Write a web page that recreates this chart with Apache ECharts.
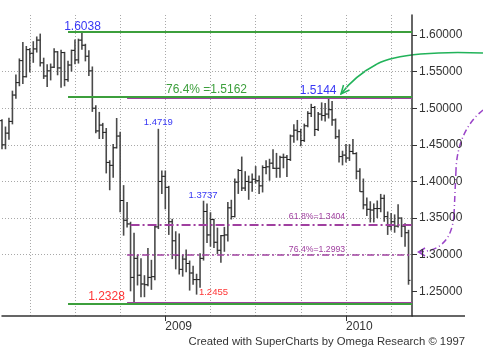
<!DOCTYPE html>
<html><head><meta charset="utf-8">
<script src="https://cdn.jsdelivr.net/npm/echarts@6/dist/echarts.min.js"></script>
<style>html,body{margin:0;padding:0;background:#fff}#c{width:483px;height:363px}</style>
</head><body><div id="c"></div>
<script>
// Weekly EUR/USD bars, weeks starting Monday 2008-02-04 (last category is an empty week)
const firstWeek = Date.UTC(2008, 1, 4);
const weekCount = 119;
const weeks = [];
for (let i = 0; i < weekCount; i++) weeks.push(new Date(firstWeek + i * 7 * 864e5).toISOString().slice(0, 10));

const open = [
 1.4830,1.4500,1.4660,1.4820,1.5180,1.5350,1.5650,1.5430,1.5800,1.5750,1.5810,1.5930,1.5620,1.5440,1.5510,1.5560,1.5770,1.5550,1.5760,1.5390,1.5590,1.5790,1.5660,1.5930,1.5860,1.5710,1.5510,1.5000,1.4690,1.4770,1.4670,1.4260,1.4220,1.4460,1.4620,1.3740,1.3470,1.3420,1.2690,1.2950,1.2720,1.2600,1.2590,1.2690,1.2700,1.3380,1.4000,1.4070,
 1.3920,1.3450,1.3190,1.2990,1.2800,1.2940,1.2880,1.2750,1.2660,1.2660,1.2950,1.3590,1.3270,1.3480,1.3170,1.3060,1.3260,1.3270,1.3640,1.3520,1.3990,1.4150,1.3910,1.4000,1.3990,1.4030,1.4010,1.3940,1.4190,1.4200,1.4250,1.4180,1.4180,1.4330,1.4330,1.4300,1.4620,1.4700,1.4680,1.4560,1.4760,1.4930,1.5010,1.4710,1.4920,1.4900,1.4920,1.4980,1.4840,1.4610,1.4340,1.4360,
 1.4320,1.4410,1.4380,1.4140,1.3860,1.3680,1.3620,1.3610,1.3630,1.3630,1.3770,1.3520,1.3390,1.3450,1.3390,1.3500,1.3390,1.3300];
const high = [
 1.4850,1.4750,1.4870,1.5240,1.5460,1.5680,1.5905,1.5850,1.5820,1.5915,1.5980,1.6019,1.5690,1.5600,1.5610,1.5820,1.5780,1.5800,1.5770,1.5650,1.5800,1.5940,1.5950,1.6038,1.5880,1.5790,1.5570,1.5040,1.4950,1.4800,1.4730,1.4290,1.4510,1.4867,1.4680,1.3950,1.3720,1.3450,1.3300,1.3000,1.2950,1.2720,1.3090,1.2930,1.3420,1.4719,1.4150,1.4150,
 1.3940,1.3490,1.3320,1.3290,1.3000,1.3070,1.2920,1.2850,1.2740,1.3020,1.3737,1.3700,1.3580,1.3490,1.3370,1.3270,1.3380,1.3720,1.3750,1.4040,1.4170,1.4340,1.4140,1.4080,1.4110,1.4210,1.4080,1.4220,1.4290,1.4310,1.4440,1.4390,1.4350,1.4380,1.4360,1.4640,1.4780,1.4840,1.4720,1.4790,1.4960,1.5060,1.5030,1.4950,1.5080,1.5070,1.5144,1.5100,1.4860,1.4710,1.4420,1.4510,
 1.4510,1.4580,1.4400,1.4180,1.4040,1.3780,1.3730,1.3700,1.3740,1.3830,1.3820,1.3590,1.3570,1.3550,1.3690,1.3510,1.3430,1.3340];
const low = [
 1.4440,1.4440,1.4570,1.4780,1.5130,1.5300,1.5330,1.5420,1.5490,1.5620,1.5760,1.5570,1.5400,1.5290,1.5380,1.5550,1.5450,1.5280,1.5300,1.5360,1.5500,1.5600,1.5610,1.5800,1.5640,1.5440,1.4950,1.4660,1.4580,1.4580,1.4110,1.3880,1.4050,1.4450,1.3580,1.3260,1.3370,1.2500,1.2328,1.2580,1.2420,1.2420,1.2570,1.2520,1.2650,1.3350,1.3830,1.3620,
 1.3270,1.2940,1.2800,1.2730,1.2700,1.2760,1.2510,1.2590,1.2455,1.2550,1.2920,1.3160,1.3110,1.3090,1.3010,1.2890,1.3040,1.3180,1.3480,1.3510,1.3830,1.3870,1.3870,1.3750,1.3860,1.3970,1.3830,1.3850,1.4100,1.4010,1.4170,1.4050,1.4050,1.4180,1.4060,1.4280,1.4530,1.4560,1.4480,1.4540,1.4740,1.4880,1.4620,1.4690,1.4830,1.4820,1.4860,1.4760,1.4580,1.4260,1.4220,1.4260,
 1.4280,1.4370,1.4030,1.3860,1.3620,1.3530,1.3440,1.3440,1.3500,1.3580,1.3450,1.3270,1.3330,1.3300,1.3370,1.3240,1.3110,1.2590];
const close = [
 1.4500,1.4660,1.4820,1.5180,1.5350,1.5650,1.5430,1.5800,1.5750,1.5810,1.5930,1.5620,1.5440,1.5510,1.5560,1.5770,1.5550,1.5760,1.5390,1.5590,1.5790,1.5660,1.5930,1.5860,1.5710,1.5510,1.5000,1.4690,1.4770,1.4670,1.4260,1.4220,1.4460,1.4620,1.3740,1.3470,1.3420,1.2690,1.2950,1.2720,1.2600,1.2590,1.2690,1.2700,1.3380,1.4000,1.4070,1.3920,
 1.3450,1.3190,1.2990,1.2800,1.2940,1.2880,1.2750,1.2660,1.2660,1.2950,1.3590,1.3270,1.3480,1.3170,1.3060,1.3260,1.3270,1.3640,1.3520,1.3990,1.4150,1.3910,1.4000,1.3990,1.4030,1.4010,1.3940,1.4190,1.4200,1.4250,1.4180,1.4180,1.4330,1.4330,1.4300,1.4620,1.4700,1.4680,1.4560,1.4760,1.4930,1.5010,1.4710,1.4920,1.4900,1.4920,1.4980,1.4840,1.4610,1.4340,1.4360,1.4320,
 1.4410,1.4380,1.4140,1.3860,1.3680,1.3620,1.3610,1.3630,1.3630,1.3770,1.3520,1.3390,1.3450,1.3390,1.3500,1.3390,1.3300,1.2650];

const yTicks = [1.25, 1.30, 1.35, 1.40, 1.45, 1.50, 1.55, 1.60];
const yMin = 1.2163, yMax = 1.6273;

// annotation levels
const greenLevels = [1.6038, 1.5162, 1.2328];
const purpleSolid = [1.5144, 1.2342];
const fibLevels = [1.3404, 1.2993];

const GREEN = '#3c9f3c', PURPLE = '#a040a0', BLUE = '#3737f5', RED = '#ff3535', FONT = 'Liberation Sans, Arial, sans-serif';

function weekHasFirstOf(v, months) {
  const t = Date.parse(v + 'T00:00:00Z');
  for (let k = 0; k < 7; k++) {
    const e = new Date(t + k * 864e5);
    if (e.getUTCDate() === 1 && months.indexOf(e.getUTCMonth()) >= 0) return true;
  }
  return false;
}

const data = open.map((o, i) => [i, o, high[i], low[i], close[i]]);

function renderItem(params, api) {
  const i = api.value(0);
  const pH = api.coord([i, api.value(2)]);
  const pL = api.coord([i, api.value(3)]);
  const pO = api.coord([i, api.value(1)]);
  const pC = api.coord([i, api.value(4)]);
  const x = pH[0];
  return { type: 'group', children: [
    { type: 'line', shape: { x1: x, y1: pH[1], x2: x, y2: pL[1] }, style: { stroke: '#4a4a4a', lineWidth: 1.6 } },
    { type: 'line', shape: { x1: x - 2, y1: pO[1], x2: x, y2: pO[1] }, style: { stroke: '#1e1e1e', lineWidth: 1 } },
    { type: 'line', shape: { x1: x, y1: pC[1], x2: x + 2, y2: pC[1] }, style: { stroke: '#1e1e1e', lineWidth: 1 } }
  ]};
}

const last = weekCount - 1;
function hLine(startIdx, v, color, width, dash) {
  return [{ coord: [startIdx, v], lineStyle: { color: color, width: width, type: dash || 'solid' } }, { coord: [last, v] }];
}
function tag(idx, v, text, color, size, off) {
  return { coord: [idx, v], value: text, label: { show: true, position: 'inside', formatter: text, color: color, fontSize: size, fontFamily: FONT, offset: off } };
}

const chart = echarts.init(document.getElementById('c'), null, { renderer: 'canvas' });
chart.setOption({
  animation: false,
  backgroundColor: '#ffffff',
  textStyle: { fontFamily: FONT },
  title: { text: 'Created with SuperCharts by Omega Research \u00a9 1997', right: 18, top: 336, padding: 0,
    textStyle: { fontSize: 11.3, fontWeight: 'normal', color: '#333', fontFamily: FONT } },
  grid: { left: 2, right: 71, top: 15, bottom: 47, containLabel: false },
  xAxis: {
    type: 'category', data: weeks, boundaryGap: false,
    axisLine: { show: true, lineStyle: { color: '#333', width: 1.5 } },
    axisTick: { show: true, length: 5, interval: (i, v) => weekHasFirstOf(v, [0]), lineStyle: { color: '#333', width: 1 } },
    axisLabel: { show: true, interval: (i, v) => weekHasFirstOf(v, [0]), align: 'left', margin: 5, color: '#333', fontSize: 12, fontFamily: FONT,
      formatter: v => String(new Date(Date.parse(v + 'T00:00:00Z') + 6 * 864e5).getUTCFullYear()) },
    splitLine: { show: true, interval: (i, v) => weekHasFirstOf(v, [0, 3, 6, 9]), lineStyle: { color: '#a8a8a8', width: 1, type: [1, 2] } }
  },
  yAxis: {
    type: 'value', position: 'right', min: yMin, max: yMax, splitNumber: 8, scale: true,
    axisLine: { show: true, lineStyle: { color: '#333', width: 1.5 } },
    axisTick: { show: true, length: 5, customValues: yTicks, lineStyle: { color: '#333' } },
    axisLabel: { show: true, customValues: yTicks, margin: 7, color: '#333', fontSize: 12, fontFamily: FONT, formatter: v => v.toFixed(5) },
    splitLine: { show: true, showMinLine: false, showMaxLine: false, lineStyle: { color: '#a8a8a8', width: 1, type: [1, 2] } }
  },
  series: [{
    type: 'custom', renderItem: renderItem, data: data, encode: { x: 0, y: [1, 2, 3, 4] }, clip: false,
    markLine: {
      silent: true, symbol: ['none', 'none'], label: { show: false }, animation: false,
      data: [
        hLine(19, greenLevels[0], GREEN, 2),
        hLine(36, purpleSolid[0], PURPLE, 2),
        hLine(19, greenLevels[1], GREEN, 2),
        hLine(36, purpleSolid[1], PURPLE, 2),
        hLine(19, greenLevels[2], GREEN, 2),
        hLine(37, fibLevels[0], PURPLE, 2, [9, 3, 2, 3]),
        hLine(36, fibLevels[1], PURPLE, 1.5, [7, 3, 2, 3])
      ]
    },
    markPoint: {
      silent: true, symbol: 'circle', symbolSize: 1, itemStyle: { color: 'rgba(0,0,0,0)' }, animation: false,
      data: [
        tag(23, 1.6038, '1.6038', BLUE, 12, [0.6, -6]),
        tag(59, 1.5162, '76.4% =1.5162', GREEN, 12, [-0.5, -7]),
        tag(91, 1.5144, '1.5144', BLUE, 12, [0, -7]),
        tag(45, 1.4719, '1.4719', BLUE, 9.5, [0, -6]),
        tag(58, 1.3737, '1.3737', BLUE, 9.5, [-0.5, -5]),
        tag(30, 1.2328, '1.2328', RED, 12, [0.3, -7]),
        tag(61, 1.2455, '1.2455', RED, 9.5, [-0.5, -2]),
        tag(91, 1.3404, '61.8%=1.3404', PURPLE, 8.7, [-1.2, -8.4]),
        tag(91, 1.2993, '76.4%=1.2993', PURPLE, 8.7, [-1.2, -5.2])
      ]
    }
  }],
  graphic: [
    { type: 'line', silent: true, shape: { x1: 412, y1: 316, x2: 465, y2: 316 }, style: { stroke: '#333', lineWidth: 1.5 } },
    { type: 'bezierCurve', silent: true, shape: { x1: 483, y1: 53, cpx1: 440, cpy1: 51, cpx2: 395, cpy2: 54, x2: 377, y2: 64 }, style: { stroke: '#22b35a', lineWidth: 1.5, fill: null } },
    { type: 'bezierCurve', silent: true, shape: { x1: 377, y1: 64, cpx1: 362, cpy1: 72, cpx2: 350, cpy2: 82, x2: 341, y2: 94 }, style: { stroke: '#22b35a', lineWidth: 1.5, fill: null } },
    { type: 'polyline', silent: true, shape: { points: [[343.5, 85], [341, 94], [349.5, 90]] }, style: { stroke: '#22b35a', lineWidth: 1.5, fill: null } },
    { type: 'bezierCurve', silent: true, shape: { x1: 483, y1: 110, cpx1: 468, cpy1: 122, cpx2: 457, cpy2: 142, x2: 456, y2: 170 }, style: { stroke: '#9a44c8', lineWidth: 1.5, lineDash: [6, 3, 1, 3], fill: null } },
    { type: 'line', silent: true, shape: { x1: 456, y1: 170, x2: 454, y2: 215 }, style: { stroke: '#9a44c8', lineWidth: 1.5, lineDash: [6, 3, 1, 3] } },
    { type: 'bezierCurve', silent: true, shape: { x1: 454, y1: 215, cpx1: 452, cpy1: 240, cpx2: 440, cpy2: 251, x2: 419, y2: 252 }, style: { stroke: '#9a44c8', lineWidth: 1.5, lineDash: [6, 3, 1, 3], fill: null } },
    { type: 'polyline', silent: true, shape: { points: [[425, 248], [418.5, 252], [425, 256]] }, style: { stroke: '#9a44c8', lineWidth: 1.5, fill: null } }
  ]
});
</script></body></html>
